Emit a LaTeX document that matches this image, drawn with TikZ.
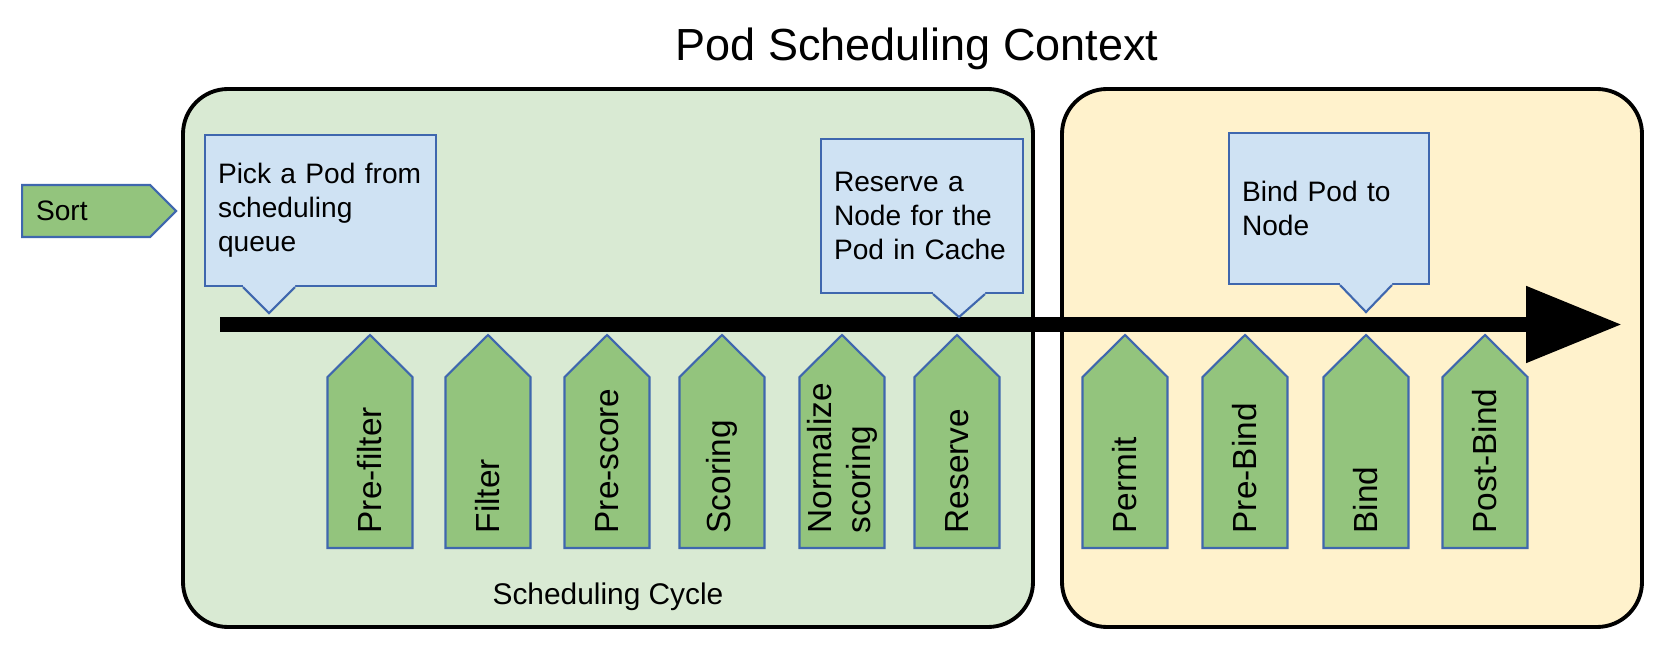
\documentclass[tikz,border=0pt]{standalone}
\usepackage{fontspec}
\setmainfont{Liberation Sans}
\usetikzlibrary{arrows.meta, shapes.symbols}

\definecolor{cyclegreen}{HTML}{D9EAD3}
\definecolor{bindyellow}{HTML}{FFF2CC}
\definecolor{notefill}{HTML}{CFE2F3}
\definecolor{stagefill}{HTML}{93C47D}
\definecolor{edgeblue}{HTML}{3F67AE}

\begin{document}
\begin{tikzpicture}[
  font=\fontsize{8}{9.7}\selectfont,
  phase/.style={draw=black, line width=1.1pt, rounded corners=0.45cm},
  schedphase/.style={phase, fill=cyclegreen},
  bindphase/.style={phase, fill=bindyellow},
  note/.style={draw=edgeblue, fill=notefill, line width=0.6pt, align=left,
    inner xsep=0.13cm, inner ysep=0pt},
  notetip/.pic={
    \fill[notefill] (-0.26,0.02) -- (0.26,0.02) -- (0.26,0) -- (0,-#1) -- (-0.26,0) -- cycle;
    \draw[edgeblue, line width=0.6pt] (-0.26,0) -- (0,-#1) -- (0.26,0);
  },
  stageshape/.style={draw=edgeblue, fill=stagefill, line width=0.6pt},
  stagetext/.style={rotate=90, anchor=west, align=left, inner sep=0pt,
    font=\fontsize{9.5}{11.1}\selectfont},
  stage/.pic={
    \draw[stageshape] (-0.425,0) -- (-0.425,1.71) -- (0,2.13) -- (0.425,1.71) -- (0.425,0) -- cycle;
    \node[stagetext] (-label) at (0,0.14) {#1};
  },
  sortbox/.style={signal, signal to=east, signal pointer angle=90, draw=edgeblue,
    fill=stagefill, line width=0.6pt, minimum height=0.52cm, text width=1.0cm,
    inner xsep=0.14cm, inner ysep=0pt, align=left},
  flow/.style={line width=0.15cm, -{Triangle[length=0.96cm, width=0.73cm]}},
]
  \useasboundingbox (0,0) rectangle (16.56,6.46);

  % Phases
  \node[schedphase, minimum width=8.50cm, minimum height=5.38cm] (schedcycle) at (6.08,2.88) {};
  \node[bindphase, minimum width=5.80cm, minimum height=5.38cm] (bindcycle) at (13.52,2.88) {};

  % Title
  \node[font=\fontsize{12.8}{15}\selectfont, anchor=base] (title) at (9.17,5.86) {Pod Scheduling Context};

  % Sort
  \node[sortbox, anchor=west] (sort) at (0.21,4.35) {Sort};

  % Flow arrow
  \coordinate (flowstart) at (2.20,3.215);
  \coordinate (flowend) at (16.22,3.215);
  \draw[flow] (flowstart) -- (flowend);

  % Callouts
  \node[note, minimum width=2.31cm, minimum height=1.51cm, text width=2.05cm] (pick) at (3.205,4.355)
    {Pick a Pod from\\scheduling\\queue};
  \coordinate (picktip) at (2.69,3.34);
  \pic at (pick.south -| picktip) {notetip=0.26};

  \node[note, minimum width=2.02cm, minimum height=1.54cm, text width=1.76cm] (reservenote) at (9.22,4.30)
    {Reserve a\\Node for the\\Pod in Cache};
  \coordinate (reservetip) at (9.59,3.30);
  \pic at (reservenote.south -| reservetip) {notetip=0.23};

  \node[note, minimum width=2.00cm, minimum height=1.51cm, text width=1.74cm] (bindnote) at (13.29,4.375)
    {Bind Pod to\\Node};
  \coordinate (bindtip) at (13.66,3.35);
  \pic at (bindnote.south -| bindtip) {notetip=0.27};

  % Scheduling cycle stages
  \pic (prefilter) at (3.70,0.98) {stage={Pre-filter}};
  \pic (filter) at (4.88,0.98) {stage={Filter}};
  \pic (prescore) at (6.07,0.98) {stage={Pre-score}};
  \pic (scoring) at (7.22,0.98) {stage={Scoring}};
  \pic (normalize) at (8.42,0.98) {stage={Normalize\\scoring}};
  \pic (reserve) at (9.57,0.98) {stage={Reserve}};

  % Binding cycle stages
  \pic (permit) at (11.25,0.98) {stage={Permit}};
  \pic (prebind) at (12.45,0.98) {stage={Pre-Bind}};
  \pic (bind) at (13.66,0.98) {stage={Bind}};
  \pic (postbind) at (14.85,0.98) {stage={Post-Bind}};

  % Label
  \node[font=\fontsize{8.5}{10}\selectfont] (cyclelabel) at ([yshift=0.32cm]schedcycle.south) {Scheduling Cycle};

\end{tikzpicture}
\end{document}
